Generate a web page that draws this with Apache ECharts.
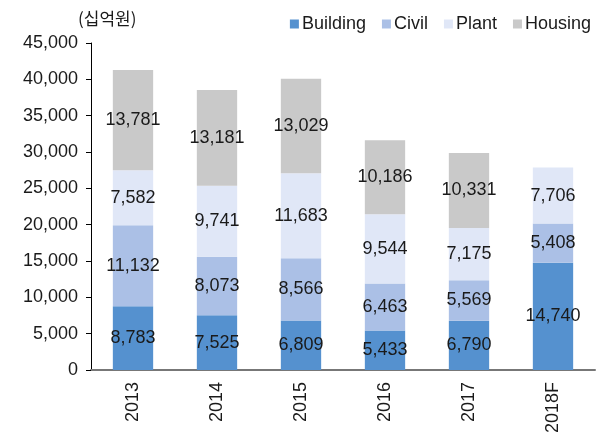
<!DOCTYPE html>
<html>
<head>
<meta charset="utf-8">
<script src="https://cdn.jsdelivr.net/npm/echarts@6/dist/echarts.min.js"></script>
<style>
  html, body { margin: 0; padding: 0; background: #fff; }
  #chart { width: 608px; height: 436px; }
</style>
</head>
<body>
<div id="chart"></div>
<script>
  // data
  const categories = ['2013', '2014', '2015', '2016', '2017', '2018F'];
  const building = [8783, 7525, 6809, 5433, 6790, 14740];
  const civil = [11132, 8073, 8566, 6463, 5569, 5408];
  const plant = [7582, 9741, 11683, 9544, 7175, 7706];
  const housing = [13781, 13181, 13029, 10186, 10331, null];

  const font = '"Liberation Sans", "Noto Sans CJK KR", sans-serif';

  function makeSeries(name, data, color) {
    return {
      name: name,
      type: 'bar',
      stack: 'total',
      barWidth: '48%',
      data: data,
      itemStyle: { color: color },
      label: {
        show: true,
        position: 'inside',
        color: '#1a1a1a',
        fontSize: 18,
        fontFamily: font,
        formatter: p => p.value == null ? '' : p.value.toLocaleString('en-US')
      }
    };
  }

  let chart = echarts.init(document.getElementById('chart'));
  let option = {
    animation: false,
    textStyle: { fontFamily: font },
    legend: {
      top: 10,
      right: 12,
      itemWidth: 9,
      itemHeight: 9,
      itemGap: 16,
      icon: 'rect',
      textStyle: { fontSize: 18, color: '#1a1a1a', fontFamily: font, padding: [0, 0, 0, -2] },
      data: ['Building', 'Civil', 'Plant', 'Housing']
    },
    graphic: [{
      type: 'text',
      left: 78,
      top: 10,
      style: { text: '(십억원)', fontSize: 17, fill: '#1a1a1a', fontFamily: '"Noto Sans CJK KR", sans-serif' }
    }],
    grid: { left: 91, right: 13, top: 43, bottom: 63 },
    xAxis: {
      type: 'category',
      data: categories,
      axisLine: { lineStyle: { color: '#777', width: 2 } },
      axisTick: { show: false },
      axisLabel: { rotate: 90, fontSize: 18, color: '#1a1a1a', margin: 12 }
    },
    yAxis: {
      type: 'value',
      min: 0,
      max: 45000,
      interval: 5000,
      axisLine: { show: true, lineStyle: { color: '#000', width: 1 } },
      axisTick: { show: true, inside: false, length: 5, lineStyle: { color: '#000' } },
      splitLine: { show: false },
      axisLabel: {
        fontSize: 18,
        color: '#1a1a1a',
        margin: 13,
        formatter: v => v.toLocaleString('en-US')
      }
    },
    series: [
      makeSeries('Building', building, '#5591cf'),
      makeSeries('Civil', civil, '#abc0e6'),
      makeSeries('Plant', plant, '#e0e7f7'),
      makeSeries('Housing', housing, '#c9c9c9')
    ]
  };
  chart.setOption(option);
</script>
</body>
</html>
